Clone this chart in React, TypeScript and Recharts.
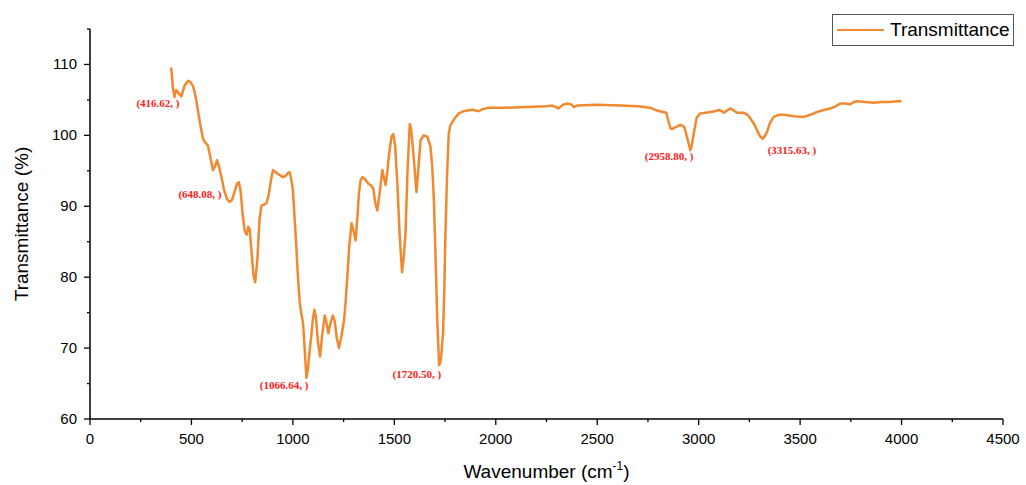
import { Legend, Line, LineChart, ReferenceDot, XAxis, YAxis } from "recharts";

// FTIR spectrum
const WAVENUMBER = [
  400, 404, 409, 416.62, 425, 435, 450, 466, 483, 495, 507, 515, 524, 532, 540, 557, 570, 581, 594, 606,
  616, 626, 636, 648.08, 660, 675, 688, 700, 712, 725, 734, 742, 752, 762, 772, 780, 787, 795, 805, 814,
  825, 835, 845, 855, 869, 880, 894, 902, 915, 930, 951, 965, 975, 984, 992, 1000, 1008, 1017, 1025, 1034,
  1042, 1050, 1058, 1066.64, 1074, 1082, 1090, 1098, 1106, 1113, 1123, 1134, 1145, 1157, 1166, 1175, 1185, 1197, 1206, 1216,
  1227, 1238, 1252, 1260, 1268, 1278, 1289, 1299, 1309, 1318, 1326, 1334, 1342, 1356, 1371, 1383, 1396, 1406, 1416, 1426,
  1441, 1449, 1457, 1466, 1474, 1486, 1495, 1504, 1515, 1526, 1538, 1547, 1555, 1565, 1576, 1582, 1588, 1598, 1609, 1619,
  1629, 1645, 1663, 1678, 1687, 1695, 1703, 1711, 1720.5, 1727, 1733, 1740, 1746, 1752, 1760, 1768, 1776, 1795, 1818, 1840,
  1860, 1885, 1900, 1915, 1935, 1965, 2050, 2150, 2250, 2278, 2295, 2310, 2330, 2350, 2370, 2385, 2400, 2500, 2614, 2700,
  2760, 2795, 2825, 2840, 2851, 2861, 2869, 2890, 2910, 2929, 2945, 2958.8, 2966, 2976, 2990, 3008, 3035, 3058, 3080, 3099,
  3115, 3124, 3140, 3156, 3173, 3189, 3205, 3222, 3240, 3255, 3275, 3288, 3302, 3315.63, 3326, 3337, 3352, 3370, 3395, 3420,
  3470, 3518, 3550, 3584, 3620, 3650, 3675, 3699, 3720, 3748, 3765, 3781, 3820, 3864, 3900, 3940, 3979, 4000,
];

const TRANSMITTANCE = [
  109.6, 108.3, 106.6, 105.4, 106.4, 106.0, 105.5, 107.0, 107.7, 107.5, 107.0, 106.2, 104.9, 103.5, 102.1, 99.5, 98.9, 98.6, 96.8, 95.1,
  95.6, 96.5, 95.6, 94.1, 92.4, 91.0, 90.6, 90.9, 92.0, 93.2, 93.4, 92.2, 89.0, 86.6, 86.0, 87.1, 86.8, 84.0, 80.5, 79.3,
  82.5, 88.0, 90.1, 90.2, 90.4, 91.5, 94.0, 95.1, 94.8, 94.5, 94.1, 94.3, 94.7, 94.8, 93.8, 92.3, 88.5, 84.3, 80.0, 76.3,
  74.8, 73.5, 70.0, 65.8, 67.0, 69.5, 71.5, 74.0, 75.4, 74.5, 71.0, 68.8, 72.0, 74.6, 73.5, 72.1, 73.5, 74.6, 73.8, 71.5,
  70.0, 71.5, 73.9, 76.5, 80.0, 84.5, 87.6, 86.5, 85.2, 88.5, 92.0, 93.7, 94.1, 93.8, 93.2, 93.0, 92.5, 90.5, 89.4, 91.5,
  95.1, 94.0, 93.0, 95.0, 97.4, 99.8, 100.2, 98.5, 93.2, 86.0, 80.7, 83.0, 86.2, 95.0, 101.6, 101.0, 99.3, 96.0, 92.0, 95.5,
  99.3, 100.0, 99.8, 98.4, 95.5, 90.8, 83.0, 74.4, 67.6, 68.0, 69.5, 72.1, 78.0, 86.2, 94.5, 100.2, 101.4, 102.3, 103.1, 103.4,
  103.5, 103.6, 103.5, 103.4, 103.7, 103.9, 103.9, 104.0, 104.1, 104.2, 104.0, 103.8, 104.3, 104.5, 104.4, 104.0, 104.2, 104.3, 104.2, 104.1,
  103.9, 103.5, 103.3, 103.2, 102.0, 101.0, 100.9, 101.2, 101.5, 101.2, 99.5, 97.9, 98.6, 100.3, 102.5, 103.1, 103.2, 103.3, 103.4, 103.6,
  103.4, 103.2, 103.5, 103.8, 103.5, 103.2, 103.2, 103.2, 102.9, 102.4, 101.5, 100.7, 99.9, 99.5, 99.9, 100.5, 101.8, 102.6, 102.9, 102.9,
  102.7, 102.6, 102.9, 103.3, 103.6, 103.8, 104.1, 104.5, 104.5, 104.4, 104.7, 104.8, 104.7, 104.6, 104.7, 104.7, 104.8, 104.8,
];

const X_TICKS = [0, 250, 500, 750, 1000, 1250, 1500, 1750, 2000, 2250, 2500, 2750, 3000, 3250, 3500, 3750, 4000, 4250, 4500];
const Y_TICKS = [60, 65, 70, 75, 80, 85, 90, 95, 100, 105, 110, 115];

const PEAK_WAVENUMBER = [416.62, 648.08, 1066.64, 1720.5, 2958.8, 3315.63];
const PEAK_VALUE = [105.4, 94.1, 65.8, 67.6, 97.9, 99.5];
const PEAK_TEXT = ["(416.62, )", "(648.08, )", "(1066.64, )", "(1720.50, )", "(2958.80, )", "(3315.63, )"];

// where each peak label sits relative to its point (px)
const PEAK_LABEL_STYLE = [
  { dx: 5, dy: 10, anchor: "end" },
  { dx: 0, dy: 21, anchor: "end" },
  { dx: 2, dy: 11, anchor: "end" },
  { dx: 2, dy: 13, anchor: "end" },
  { dx: 3, dy: 10, anchor: "end" },
  { dx: 5, dy: 15, anchor: "start" },
];

const data = WAVENUMBER.map((w, i) => ({ w, t: TRANSMITTANCE[i] }));

const LINE_COLOR = "#F0892F";
const FONT = "'Liberation Sans', Arial, sans-serif";

function XTick(props: any) {
  const { x, y, payload } = props;
  const major = payload.value % 500 === 0;
  return (
    <g>
      <line x1={x} x2={x} y1={y} y2={y + (major ? 6 : 3)} stroke="#000" strokeWidth={1.3} />
      {major && (
        <text x={x} y={y + 25} textAnchor="middle" fontSize={15} fontFamily={FONT} fill="#000">
          {payload.value}
        </text>
      )}
    </g>
  );
}

function YTick(props: any) {
  const { x, y, payload } = props;
  const major = payload.value % 10 === 0;
  return (
    <g>
      <line x1={x - (major ? 6 : 3)} x2={x} y1={y} y2={y} stroke="#000" strokeWidth={1.3} />
      {major && (
        <text x={x - 13} y={y + 5} textAnchor="end" fontSize={15} fontFamily={FONT} fill="#000">
          {payload.value}
        </text>
      )}
    </g>
  );
}

function LegendBox() {
  return (
    <div
      style={{
        width: 180,
        height: 30,
        border: "1px solid #555",
        background: "#fff",
        display: "flex",
        alignItems: "center",
        fontFamily: FONT,
        fontSize: 19,
        color: "#000",
        boxSizing: "content-box",
      }}
    >
      <div style={{ width: 47, height: 2.5, background: LINE_COLOR, marginLeft: 4, marginRight: 6 }} />
      <span>Transmittance</span>
    </div>
  );
}

export default function App() {
  return (
    <div style={{ position: "absolute", left: 0, top: 0, background: "#fff" }}>
      <LineChart width={1026} height={485} data={data} margin={{ top: 29, right: 23, bottom: 26, left: 0 }}>
        <XAxis
          dataKey="w"
          type="number"
          domain={[0, 4500]}
          ticks={X_TICKS}
          interval={0}
          height={40}
          tickSize={0}
          tickMargin={0}
          tickLine={false}
          tick={XTick}
          axisLine={{ stroke: "#000", strokeWidth: 1.5 }}
          label={{
            content: (p: any) => {
              const vb = p.viewBox;
              return (
                <text x={vb.x + vb.width / 2} y={vb.y + 59} textAnchor="middle" fontSize={19} fontFamily={FONT} fill="#000">
                  Wavenumber (cm
                  <tspan fontSize={12} dy={-8}>-1</tspan>
                  <tspan dy={8}>)</tspan>
                </text>
              );
            },
          }}
        />
        <YAxis
          type="number"
          domain={[60, 115]}
          ticks={Y_TICKS}
          interval={0}
          width={90}
          tickSize={0}
          tickMargin={0}
          tickLine={false}
          tick={YTick}
          axisLine={{ stroke: "#000", strokeWidth: 1.5 }}
          label={{
            content: (p: any) => {
              const vb = p.viewBox;
              const cx = vb.x + 21;
              const cy = vb.y + vb.height / 2;
              return (
                <text
                  x={cx}
                  y={cy}
                  transform={`rotate(-90 ${cx} ${cy})`}
                  textAnchor="middle"
                  dominantBaseline="central"
                  fontSize={19}
                  fontFamily={FONT}
                  fill="#000"
                >
                  Transmittance (%)
                </text>
              );
            },
          }}
        />
        <Legend
          layout="horizontal"
          verticalAlign="middle"
          align="center"
          content={() => <LegendBox />}
          wrapperStyle={{ top: 14, left: 832, width: 182, height: 32 }}
        />
        <Line
          type="linear"
          dataKey="t"
          name="Transmittance"
          stroke={LINE_COLOR}
          strokeWidth={2.5}
          strokeLinejoin="round"
          dot={false}
          activeDot={false}
          isAnimationActive={false}
        />
        {PEAK_WAVENUMBER.map((w, i) => {
          const s = PEAK_LABEL_STYLE[i];
          return (
            <ReferenceDot
              key={w}
              x={w}
              y={PEAK_VALUE[i]}
              r={1}
              shape={(p: any) => (
                <text
                  x={p.cx + s.dx}
                  y={p.cy + s.dy}
                  textAnchor={s.anchor}
                  fontSize={11}
                  fontWeight="bold"
                  fontFamily="'Liberation Serif', 'Times New Roman', serif"
                  fill="#FF1A1A"
                >
                  {PEAK_TEXT[i]}
                </text>
              )}
            />
          );
        })}
      </LineChart>
    </div>
  );
}
